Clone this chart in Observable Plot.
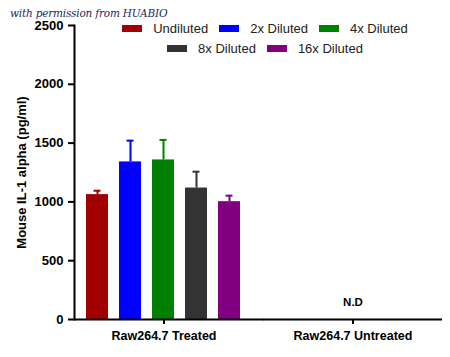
<!DOCTYPE html>
<html><head><meta charset="utf-8">
<script src="https://cdn.jsdelivr.net/npm/d3@7"></script>
<script src="https://cdn.jsdelivr.net/npm/@observablehq/plot@0.6"></script>
<style>
body{margin:0;background:#fff;}
#wrap{position:relative;width:450px;height:357px;font-family:Arial,"Liberation Sans",sans-serif;}
#wm{position:absolute;left:10px;top:8px;line-height:10px;font-family:"DejaVu Serif",serif;font-style:italic;font-size:10.5px;color:#1b2a5c;letter-spacing:-0.2px;}
#legend{position:absolute;left:65px;top:18px;width:400px;font-size:13px;color:#222;}
.row{display:flex;justify-content:center;height:20.5px;align-items:center;}
.item{display:flex;align-items:center;margin:0 5.5px;}
.sw{width:20px;height:7px;margin-right:11px;}
</style></head>
<body>
<div id="wrap">
<div id="chart"></div>
<div id="wm">with permission from HUABIO</div>
<div id="legend"></div>
</div>
<script>
const groups = ["Raw264.7 Treated", "Raw264.7 Untreated"];
const dilutions = ["Undiluted", "2x Diluted", "4x Diluted", "8x Diluted", "16x Diluted"];
const treatedMeans = [1062, 1340, 1357, 1118, 1002];
const treatedSD = [33, 181, 170, 139, 51];
const colors = ["#a00000", "#0000ff", "#008000", "#333333", "#800080"];
const yTicks = [0, 500, 1000, 1500, 2000, 2500];
const legendRows = [[0, 1, 2], [3, 4]];

const rows = dilutions.map((d, i) => ({group: groups[0], dilution: d, mean: treatedMeans[i], sd: treatedSD[i]}));

const chart = Plot.plot({
  width: 450, height: 357,
  marginLeft: 74, marginRight: 8, marginTop: 25, marginBottom: 38,
  style: {fontFamily: "Arial, 'Liberation Sans', sans-serif", color: "#000", background: "#fff"},
  fx: {domain: groups, paddingInner: 0.055, paddingOuter: 0},
  x: {domain: dilutions, paddingInner: 0.333, paddingOuter: 0.35, axis: null},
  y: {domain: [0, 2500]},
  color: {domain: dilutions, range: colors},
  marks: [
    Plot.barY(rows, {fx: "group", x: "dilution", y: "mean", fill: "dilution"}),
    Plot.ruleX(rows, {fx: "group", x: "dilution", y1: "mean", y2: d => d.mean + d.sd, stroke: "dilution", strokeWidth: 2}),
    Plot.tickY(rows, {fx: "group", x: "dilution", y: d => d.mean + d.sd, stroke: "dilution", strokeWidth: 2, insetLeft: 7.5, insetRight: 7.5}),
    Plot.text([{group: groups[1]}], {fx: "group", text: () => "N.D", frameAnchor: "bottom", dy: -14, fontWeight: "bold", fontSize: 11.5}),
    Plot.ruleY([{group: groups[0], v: 0}], {fx: "group", y: "v", strokeWidth: 2, insetRight: -10.5}),
    Plot.ruleY([{group: groups[1], v: 0}], {fx: "group", y: "v", strokeWidth: 2}),
    Plot.frame({anchor: "left", facetAnchor: "left", strokeWidth: 2}),
    Plot.axisY({ticks: yTicks, tickFormat: d3.format("d"), tickSize: 6, tickPadding: 5, strokeWidth: 2, fontWeight: "bold", fontSize: 13,
      label: "Mouse IL-1 alpha (pg/ml)", labelAnchor: "center", labelOffset: 58, labelArrow: "none"}),
    Plot.axisFx({anchor: "bottom", tickSize: 5, tickPadding: 7, strokeWidth: 2, fontWeight: "bold", fontSize: 12.5, label: null})
  ]
});
document.getElementById("chart").appendChild(chart);

const leg = document.getElementById("legend");
legendRows.forEach(r => {
  const row = document.createElement("div");
  row.className = "row";
  r.forEach(i => {
    const it = document.createElement("div");
    it.className = "item";
    const sw = document.createElement("div");
    sw.className = "sw";
    sw.style.background = colors[i];
    const t = document.createElement("span");
    t.textContent = dilutions[i];
    it.appendChild(sw); it.appendChild(t);
    row.appendChild(it);
  });
  leg.appendChild(row);
});
</script>
</body></html>
